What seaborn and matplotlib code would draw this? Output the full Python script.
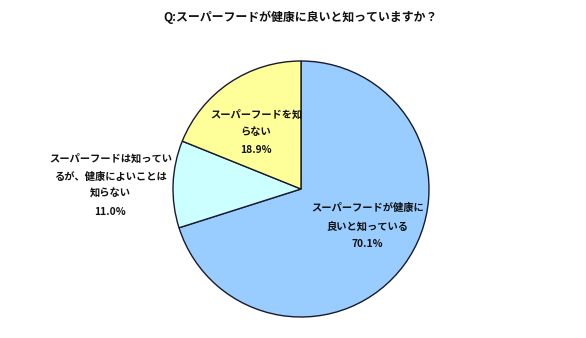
import matplotlib
matplotlib.use("Agg")
import matplotlib.pyplot as plt
import seaborn as sns

sns.set_theme(style="white")
plt.rcParams['font.family'] = ['Noto Sans CJK JP', 'DejaVu Sans']

title = "Q:スーパーフードが健康に良いと知っていますか？"
categories = ["スーパーフードが健康に\n良いと知っている",
              "スーパーフードは知ってい\nるが、健康によいことは\n知らない",
              "スーパーフードを知\nらない"]
shares = [70.1, 11.0, 18.9]
colors = ["#99CCFF", "#CCFFFF", "#FFFF99"]
label_pos = [(0.52, -0.29), (-1.49, 0.03), (-0.35, 0.445)]

W, H = 586, 338
cx, cy, r = 301, 189, 128

fig = plt.figure(figsize=(W / 100, H / 100), dpi=100)
ax = fig.add_axes([(cx - r) / W, (H - cy - r) / H, 2 * r / W, 2 * r / H])
ax.pie(shares, colors=colors, startangle=90, counterclock=False,
       wedgeprops=dict(edgecolor="#1a1a2e", linewidth=1.0),
       radius=1.0)
ax.set_xlim(-1, 1)
ax.set_ylim(-1, 1)
ax.set_aspect("equal")
ax.axis("off")

for cat, val, (x, y) in zip(categories, shares, label_pos):
    ax.text(x, y, f"{cat}\n{val:.1f}%", ha="center", va="center",
            fontsize=7.4, fontweight="bold", linespacing=1.95,
            color="#111111", clip_on=False)

fig.text(300 / W, 1 - 17 / H, title, ha="center", va="center",
         fontsize=8.6, fontweight="bold", color="#111111")

fig.savefig("out.png", dpi=100)
